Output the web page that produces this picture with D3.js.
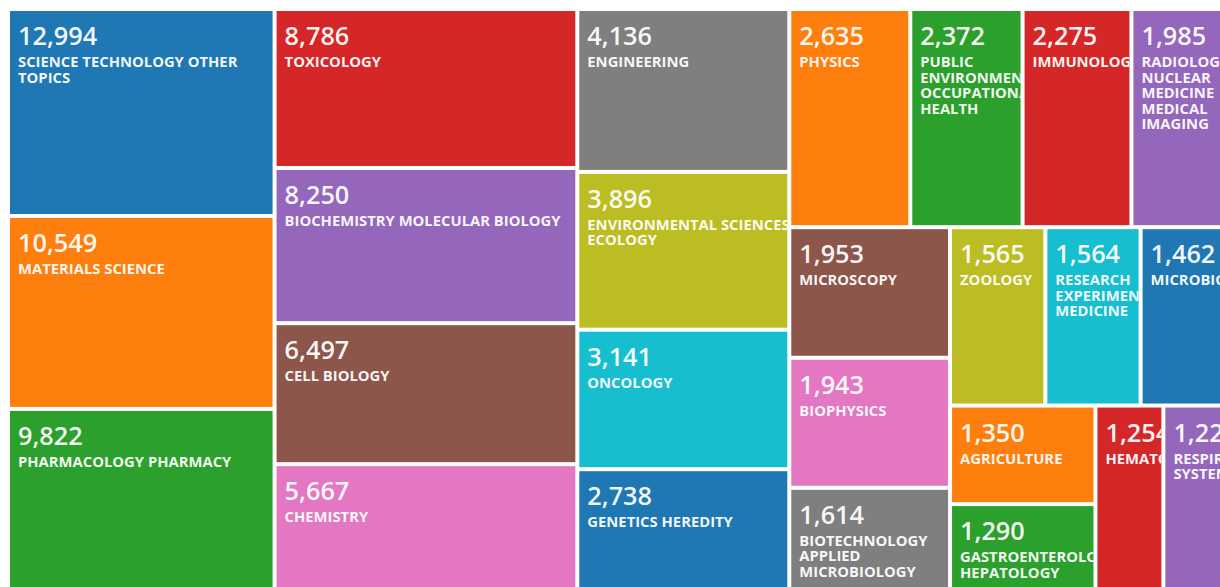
<!DOCTYPE html>
<html>
<head>
<meta charset="utf-8">
<script src="https://cdn.jsdelivr.net/npm/d3@7"></script>
<style>
  html, body { margin: 0; padding: 0; background: #ffffff; overflow: hidden; }
  svg { display: block; }
  .num { font-family: "Open Sans", "Noto Sans", sans-serif; font-weight: 600; font-size: 25.3px; }
  .lbl { font-family: "Open Sans", "Noto Sans", sans-serif; font-weight: 700; font-size: 14.8px; }
</style>
</head>
<body>
<svg id="chart" width="1220" height="587"></svg>
<script>
// Research areas and record counts (top 25)
const categories = [
  "SCIENCE TECHNOLOGY OTHER TOPICS",
  "MATERIALS SCIENCE",
  "PHARMACOLOGY PHARMACY",
  "TOXICOLOGY",
  "BIOCHEMISTRY MOLECULAR BIOLOGY",
  "CELL BIOLOGY",
  "CHEMISTRY",
  "ENGINEERING",
  "ENVIRONMENTAL SCIENCES ECOLOGY",
  "ONCOLOGY",
  "GENETICS HEREDITY",
  "PHYSICS",
  "PUBLIC ENVIRONMENTAL OCCUPATIONAL HEALTH",
  "IMMUNOLOGY",
  "RADIOLOGY NUCLEAR MEDICINE MEDICAL IMAGING",
  "MICROSCOPY",
  "BIOPHYSICS",
  "BIOTECHNOLOGY APPLIED MICROBIOLOGY",
  "ZOOLOGY",
  "RESEARCH EXPERIMENTAL MEDICINE",
  "MICROBIOLOGY",
  "AGRICULTURE",
  "GASTROENTEROLOGY HEPATOLOGY",
  "HEMATOLOGY",
  "RESPIRATORY SYSTEM"
];
const records = [
  12994, 10549, 9822, 8786, 8250, 6497, 5667, 4136, 3896, 3141,
  2738, 2635, 2372, 2275, 1985, 1953, 1943, 1614, 1565, 1564,
  1462, 1350, 1290, 1254, 1224
];

const svg = d3.select("#chart");

// Tile area grows with the logarithm of the record count
const areaScale = d3.scaleLog().domain([610, d3.max(records)]).range([0, 1]);
const color = d3.scaleOrdinal(d3.schemeCategory10);
const fmt = d3.format(",");

const items = categories.map((name, i) => ({ name, count: records[i], idx: i }));
const root = d3.hierarchy({ children: items })
  .sum(d => (d.children ? 0 : areaScale(d.count)))
  .sort((a, b) => b.value - a.value);

const mapW = 1221, mapH = 588, gap = 2;
d3.treemap().tile(d3.treemapSquarify).size([mapW, mapH])(root);

const g = svg.append("g").attr("transform", "translate(8,9)");

const cells = g.selectAll("g.cell")
  .data(root.leaves())
  .join("g")
  .attr("class", "cell")
  .attr("transform", d => `translate(${d.x0 + gap},${d.y0 + gap})`);

cells.append("clipPath")
  .attr("id", (d, i) => "clip" + i)
  .append("rect")
  .attr("width", d => Math.max(0, d.x1 - d.x0 - 2 * gap))
  .attr("height", d => Math.max(0, d.y1 - d.y0 - 2 * gap));

cells.append("rect")
  .attr("width", d => Math.max(0, d.x1 - d.x0 - 2 * gap))
  .attr("height", d => Math.max(0, d.y1 - d.y0 - 2 * gap))
  .attr("fill", d => color(d.data.idx));

const content = cells.append("g").attr("clip-path", (d, i) => `url(#clip${i})`);

content.append("text")
  .attr("class", "num")
  .attr("x", 8)
  .attr("y", 34)
  .attr("fill", "#ffffff")
  .attr("fill-opacity", 0.94)
  .text(d => fmt(d.data.count));

// Word-wrap the area name inside each tile
content.each(function (d) {
  const maxW = d.x1 - d.x0 - 2 * gap - 4;
  const text = d3.select(this).append("text")
    .attr("class", "lbl")
    .attr("fill", "#ffffff")
    .attr("fill-opacity", 0.94);
  const probe = text.append("tspan");
  const words = d.data.name.split(" ");
  const lines = [];
  let line = [];
  words.forEach(w => {
    probe.text(line.concat(w).join(" "));
    if (line.length && probe.node().getComputedTextLength() > maxW) {
      lines.push(line.join(" "));
      line = [w];
    } else {
      line.push(w);
    }
  });
  lines.push(line.join(" "));
  probe.remove();
  lines.forEach((l, k) => {
    text.append("tspan").attr("x", 8).attr("y", 56 + k * 15.6).text(l);
  });
});
</script>
</body>
</html>
